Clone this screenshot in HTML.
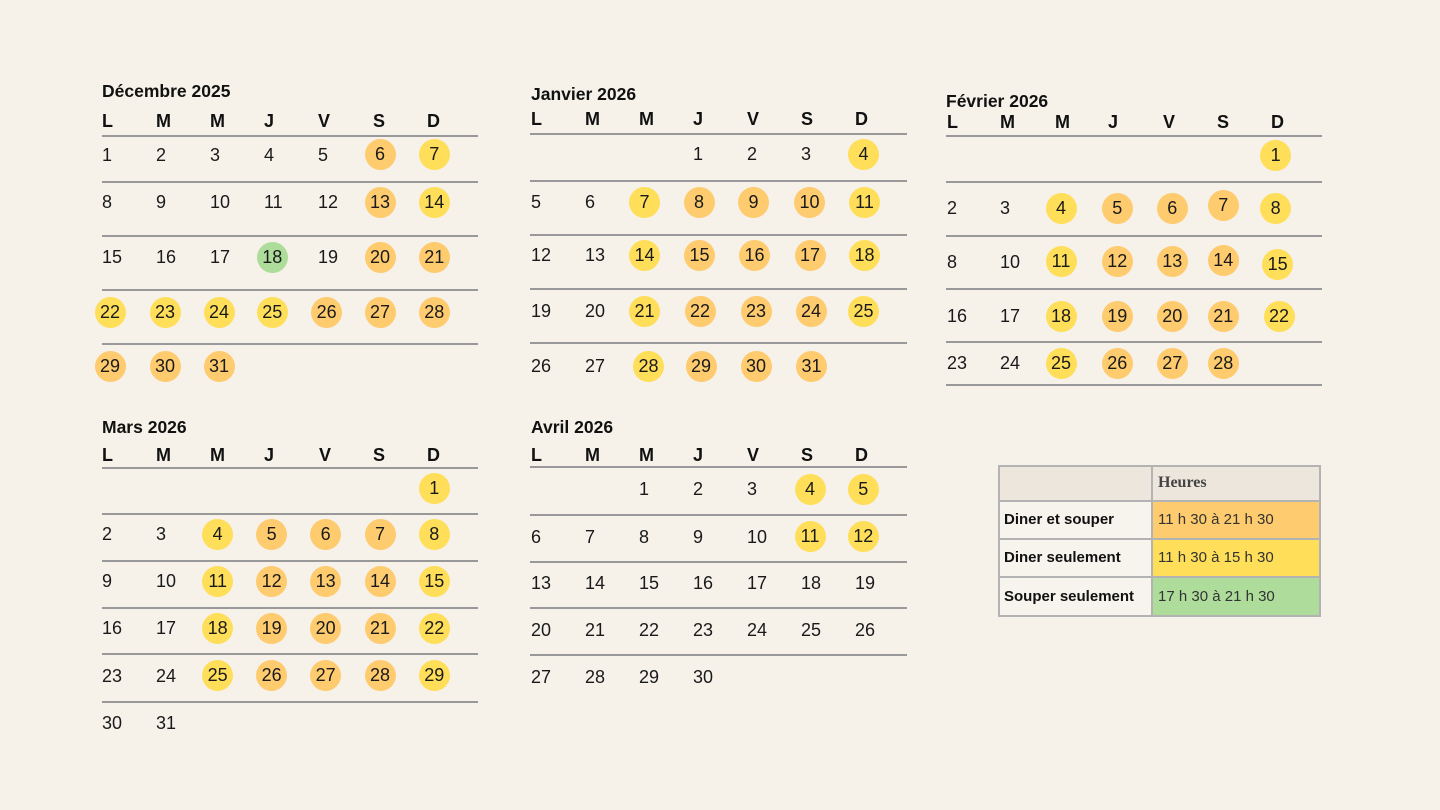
<!DOCTYPE html>
<html lang="fr">
<head>
<meta charset="utf-8">
<style>
  html,body{margin:0;padding:0;}
  body{width:1440px;height:810px;background:#f6f2ea;position:relative;overflow:hidden;
       font-family:"Liberation Sans",Arial,sans-serif;color:#1a1a1a;}
  .t{position:absolute;font-weight:bold;font-size:17.5px;line-height:20px;white-space:nowrap;color:#111;}
  .h{position:absolute;font-weight:bold;font-size:18px;line-height:20px;color:#111;}
  .l{position:absolute;height:2px;background:#999;}
  .n{position:absolute;font-size:18px;line-height:20px;white-space:nowrap;}
  .c{position:absolute;width:31px;height:31px;border-radius:50%;font-size:18px;line-height:31px;text-align:center;white-space:nowrap;}
  .o{background:#fecb6e;}
  .y{background:#ffde59;}
  .g{background:#aedd9b;}
  .cell{position:absolute;box-sizing:border-box;}
  .lab{position:absolute;font-weight:bold;font-size:15px;line-height:20px;white-space:nowrap;color:#111;}
  .val{position:absolute;font-size:15px;line-height:20px;white-space:nowrap;color:#333;}
</style>
</head>
<body>

<!-- ===== Décembre 2025 ===== -->
<div class="t" style="left:102px;top:81px;">Décembre 2025</div>
<div class="h" style="left:102px;top:111px;">L</div>
<div class="h" style="left:156px;top:111px;">M</div>
<div class="h" style="left:210px;top:111px;">M</div>
<div class="h" style="left:264px;top:111px;">J</div>
<div class="h" style="left:318px;top:111px;">V</div>
<div class="h" style="left:373px;top:111px;">S</div>
<div class="h" style="left:427px;top:111px;">D</div>
<div class="l" style="left:102px;top:135px;width:376px;"></div>
<div class="l" style="left:102px;top:181px;width:376px;"></div>
<div class="l" style="left:102px;top:235px;width:376px;"></div>
<div class="l" style="left:102px;top:289px;width:376px;"></div>
<div class="l" style="left:102px;top:343px;width:376px;"></div>

<div class="n" style="left:102px;top:144.5px;">1</div>
<div class="n" style="left:156px;top:144.5px;">2</div>
<div class="n" style="left:210px;top:144.5px;">3</div>
<div class="n" style="left:264px;top:144.5px;">4</div>
<div class="n" style="left:318px;top:144.5px;">5</div>
<div class="c o" style="left:364.5px;top:139px;">6</div>
<div class="c y" style="left:418.8px;top:139px;">7</div>

<div class="n" style="left:102px;top:192.3px;">8</div>
<div class="n" style="left:156px;top:192.3px;">9</div>
<div class="n" style="left:210px;top:192.3px;">10</div>
<div class="n" style="left:264px;top:192.3px;">11</div>
<div class="n" style="left:318px;top:192.3px;">12</div>
<div class="c o" style="left:364.5px;top:186.8px;">13</div>
<div class="c y" style="left:418.8px;top:186.8px;">14</div>

<div class="n" style="left:102px;top:247.3px;">15</div>
<div class="n" style="left:156px;top:247.3px;">16</div>
<div class="n" style="left:210px;top:247.3px;">17</div>
<div class="c g" style="left:256.8px;top:241.8px;">18</div>
<div class="n" style="left:318px;top:247.3px;">19</div>
<div class="c o" style="left:364.5px;top:241.8px;">20</div>
<div class="c o" style="left:418.8px;top:241.8px;">21</div>

<div class="c y" style="left:94.5px;top:296.8px;">22</div>
<div class="c y" style="left:149.5px;top:296.8px;">23</div>
<div class="c y" style="left:203.5px;top:296.8px;">24</div>
<div class="c y" style="left:256.8px;top:296.8px;">25</div>
<div class="c o" style="left:311.2px;top:296.8px;">26</div>
<div class="c o" style="left:364.5px;top:296.8px;">27</div>
<div class="c o" style="left:418.8px;top:296.8px;">28</div>

<div class="c o" style="left:94.5px;top:351.2px;">29</div>
<div class="c o" style="left:149.5px;top:351.2px;">30</div>
<div class="c o" style="left:203.5px;top:351.2px;">31</div>

<!-- ===== Janvier 2026 ===== -->
<div class="t" style="left:531px;top:84px;">Janvier 2026</div>
<div class="h" style="left:531px;top:109px;">L</div>
<div class="h" style="left:585px;top:109px;">M</div>
<div class="h" style="left:639px;top:109px;">M</div>
<div class="h" style="left:693px;top:109px;">J</div>
<div class="h" style="left:747px;top:109px;">V</div>
<div class="h" style="left:801px;top:109px;">S</div>
<div class="h" style="left:855px;top:109px;">D</div>
<div class="l" style="left:530px;top:133px;width:377px;"></div>
<div class="l" style="left:530px;top:180px;width:377px;"></div>
<div class="l" style="left:530px;top:234px;width:377px;"></div>
<div class="l" style="left:530px;top:288px;width:377px;"></div>
<div class="l" style="left:530px;top:342px;width:377px;"></div>

<div class="n" style="left:693px;top:144.3px;">1</div>
<div class="n" style="left:747px;top:144.3px;">2</div>
<div class="n" style="left:801px;top:144.3px;">3</div>
<div class="c y" style="left:848px;top:138.8px;">4</div>

<div class="n" style="left:531px;top:192px;">5</div>
<div class="n" style="left:585px;top:192px;">6</div>
<div class="c y" style="left:629px;top:186.5px;">7</div>
<div class="c o" style="left:683.5px;top:186.5px;">8</div>
<div class="c o" style="left:738px;top:186.5px;">9</div>
<div class="c o" style="left:794px;top:186.5px;">10</div>
<div class="c y" style="left:849px;top:186.5px;">11</div>

<div class="n" style="left:531px;top:245px;">12</div>
<div class="n" style="left:585px;top:245px;">13</div>
<div class="c y" style="left:629px;top:239.5px;">14</div>
<div class="c o" style="left:684px;top:239.5px;">15</div>
<div class="c o" style="left:739px;top:239.5px;">16</div>
<div class="c o" style="left:794.5px;top:239.5px;">17</div>
<div class="c y" style="left:849px;top:239.5px;">18</div>

<div class="n" style="left:531px;top:301px;">19</div>
<div class="n" style="left:585px;top:301px;">20</div>
<div class="c y" style="left:629px;top:295.5px;">21</div>
<div class="c o" style="left:684.5px;top:295.5px;">22</div>
<div class="c o" style="left:740.5px;top:295.5px;">23</div>
<div class="c o" style="left:795.5px;top:295.5px;">24</div>
<div class="c y" style="left:848px;top:295.5px;">25</div>

<div class="n" style="left:531px;top:356px;">26</div>
<div class="n" style="left:585px;top:356px;">27</div>
<div class="c y" style="left:633px;top:350.5px;">28</div>
<div class="c o" style="left:685.5px;top:350.5px;">29</div>
<div class="c o" style="left:740.5px;top:350.5px;">30</div>
<div class="c o" style="left:796px;top:350.5px;">31</div>

<!-- ===== Février 2026 ===== -->
<div class="t" style="left:946px;top:91.4px;">Février 2026</div>
<div class="h" style="left:947px;top:111.5px;">L</div>
<div class="h" style="left:1000px;top:111.5px;">M</div>
<div class="h" style="left:1055px;top:111.5px;">M</div>
<div class="h" style="left:1108px;top:111.5px;">J</div>
<div class="h" style="left:1163px;top:111.5px;">V</div>
<div class="h" style="left:1217px;top:111.5px;">S</div>
<div class="h" style="left:1271px;top:111.5px;">D</div>
<div class="l" style="left:946px;top:135px;width:376px;"></div>
<div class="l" style="left:946px;top:181px;width:376px;"></div>
<div class="l" style="left:946px;top:235px;width:376px;"></div>
<div class="l" style="left:946px;top:288px;width:376px;"></div>
<div class="l" style="left:946px;top:341px;width:376px;"></div>
<div class="l" style="left:946px;top:384px;width:376px;"></div>

<div class="c y" style="left:1260.2px;top:139.5px;">1</div>

<div class="n" style="left:947px;top:198.3px;">2</div>
<div class="n" style="left:1000px;top:198.3px;">3</div>
<div class="c y" style="left:1045.5px;top:192.8px;">4</div>
<div class="c o" style="left:1101.8px;top:192.8px;">5</div>
<div class="c o" style="left:1156.8px;top:192.8px;">6</div>
<div class="c o" style="left:1207.8px;top:190.2px;">7</div>
<div class="c y" style="left:1260.2px;top:192.8px;">8</div>

<div class="n" style="left:947px;top:251.7px;">8</div>
<div class="n" style="left:1000px;top:251.7px;">10</div>
<div class="c y" style="left:1045.5px;top:246.2px;">11</div>
<div class="c o" style="left:1101.8px;top:246.2px;">12</div>
<div class="c o" style="left:1156.8px;top:246.2px;">13</div>
<div class="c o" style="left:1207.8px;top:244.5px;">14</div>
<div class="c y" style="left:1262.2px;top:248.5px;">15</div>

<div class="n" style="left:947px;top:306px;">16</div>
<div class="n" style="left:1000px;top:306px;">17</div>
<div class="c y" style="left:1045.5px;top:300.5px;">18</div>
<div class="c o" style="left:1101.8px;top:300.5px;">19</div>
<div class="c o" style="left:1156.8px;top:300.5px;">20</div>
<div class="c o" style="left:1207.8px;top:300.5px;">21</div>
<div class="c y" style="left:1263.5px;top:301.2px;">22</div>

<div class="n" style="left:947px;top:353.3px;">23</div>
<div class="n" style="left:1000px;top:353.3px;">24</div>
<div class="c y" style="left:1045.5px;top:347.8px;">25</div>
<div class="c o" style="left:1101.8px;top:347.8px;">26</div>
<div class="c o" style="left:1156.8px;top:347.8px;">27</div>
<div class="c o" style="left:1207.8px;top:347.8px;">28</div>

<!-- ===== Mars 2026 ===== -->
<div class="t" style="left:102px;top:417.4px;">Mars 2026</div>
<div class="h" style="left:102px;top:445px;">L</div>
<div class="h" style="left:156px;top:445px;">M</div>
<div class="h" style="left:210px;top:445px;">M</div>
<div class="h" style="left:264px;top:445px;">J</div>
<div class="h" style="left:319px;top:445px;">V</div>
<div class="h" style="left:373px;top:445px;">S</div>
<div class="h" style="left:427px;top:445px;">D</div>
<div class="l" style="left:102px;top:467px;width:376px;"></div>
<div class="l" style="left:102px;top:513px;width:376px;"></div>
<div class="l" style="left:102px;top:560px;width:376px;"></div>
<div class="l" style="left:102px;top:607px;width:376px;"></div>
<div class="l" style="left:102px;top:653px;width:376px;"></div>
<div class="l" style="left:102px;top:701px;width:376px;"></div>

<div class="c y" style="left:418.8px;top:472.8px;">1</div>

<div class="n" style="left:102px;top:524px;">2</div>
<div class="n" style="left:156px;top:524px;">3</div>
<div class="c y" style="left:202.2px;top:518.5px;">4</div>
<div class="c o" style="left:256.2px;top:518.5px;">5</div>
<div class="c o" style="left:310.2px;top:518.5px;">6</div>
<div class="c o" style="left:364.5px;top:518.5px;">7</div>
<div class="c y" style="left:418.8px;top:518.5px;">8</div>

<div class="n" style="left:102px;top:571.3px;">9</div>
<div class="n" style="left:156px;top:571.3px;">10</div>
<div class="c y" style="left:202.2px;top:565.8px;">11</div>
<div class="c o" style="left:256.2px;top:565.8px;">12</div>
<div class="c o" style="left:310.2px;top:565.8px;">13</div>
<div class="c o" style="left:364.5px;top:565.8px;">14</div>
<div class="c y" style="left:418.8px;top:565.8px;">15</div>

<div class="n" style="left:102px;top:618.3px;">16</div>
<div class="n" style="left:156px;top:618.3px;">17</div>
<div class="c y" style="left:202.2px;top:612.8px;">18</div>
<div class="c o" style="left:256.2px;top:612.8px;">19</div>
<div class="c o" style="left:310.2px;top:612.8px;">20</div>
<div class="c o" style="left:364.5px;top:612.8px;">21</div>
<div class="c y" style="left:418.8px;top:612.8px;">22</div>

<div class="n" style="left:102px;top:665.7px;">23</div>
<div class="n" style="left:156px;top:665.7px;">24</div>
<div class="c y" style="left:202.2px;top:660.2px;">25</div>
<div class="c o" style="left:256.2px;top:660.2px;">26</div>
<div class="c o" style="left:310.2px;top:660.2px;">27</div>
<div class="c o" style="left:364.5px;top:660.2px;">28</div>
<div class="c y" style="left:418.8px;top:660.2px;">29</div>

<div class="n" style="left:102px;top:712.7px;">30</div>
<div class="n" style="left:156px;top:712.7px;">31</div>

<!-- ===== Avril 2026 ===== -->
<div class="t" style="left:531px;top:417.4px;">Avril 2026</div>
<div class="h" style="left:531px;top:444.5px;">L</div>
<div class="h" style="left:585px;top:444.5px;">M</div>
<div class="h" style="left:639px;top:444.5px;">M</div>
<div class="h" style="left:693px;top:444.5px;">J</div>
<div class="h" style="left:747px;top:444.5px;">V</div>
<div class="h" style="left:801px;top:444.5px;">S</div>
<div class="h" style="left:855px;top:444.5px;">D</div>
<div class="l" style="left:530px;top:466px;width:377px;"></div>
<div class="l" style="left:530px;top:514px;width:377px;"></div>
<div class="l" style="left:530px;top:561px;width:377px;"></div>
<div class="l" style="left:530px;top:607px;width:377px;"></div>
<div class="l" style="left:530px;top:654px;width:377px;"></div>

<div class="n" style="left:639px;top:479px;">1</div>
<div class="n" style="left:693px;top:479px;">2</div>
<div class="n" style="left:747px;top:479px;">3</div>
<div class="c y" style="left:794.5px;top:473.5px;">4</div>
<div class="c y" style="left:847.8px;top:473.5px;">5</div>

<div class="n" style="left:531px;top:526.5px;">6</div>
<div class="n" style="left:585px;top:526.5px;">7</div>
<div class="n" style="left:639px;top:526.5px;">8</div>
<div class="n" style="left:693px;top:526.5px;">9</div>
<div class="n" style="left:747px;top:526.5px;">10</div>
<div class="c y" style="left:794.5px;top:521px;">11</div>
<div class="c y" style="left:847.8px;top:521px;">12</div>

<div class="n" style="left:531px;top:573.3px;">13</div>
<div class="n" style="left:585px;top:573.3px;">14</div>
<div class="n" style="left:639px;top:573.3px;">15</div>
<div class="n" style="left:693px;top:573.3px;">16</div>
<div class="n" style="left:747px;top:573.3px;">17</div>
<div class="n" style="left:801px;top:573.3px;">18</div>
<div class="n" style="left:855px;top:573.3px;">19</div>

<div class="n" style="left:531px;top:620px;">20</div>
<div class="n" style="left:585px;top:620px;">21</div>
<div class="n" style="left:639px;top:620px;">22</div>
<div class="n" style="left:693px;top:620px;">23</div>
<div class="n" style="left:747px;top:620px;">24</div>
<div class="n" style="left:801px;top:620px;">25</div>
<div class="n" style="left:855px;top:620px;">26</div>

<div class="n" style="left:531px;top:666.7px;">27</div>
<div class="n" style="left:585px;top:666.7px;">28</div>
<div class="n" style="left:639px;top:666.7px;">29</div>
<div class="n" style="left:693px;top:666.7px;">30</div>

<!-- ===== Légende ===== -->
<div class="cell" style="left:998px;top:465px;width:155px;height:36px;background:#ede6dd;"></div>
<div class="cell" style="left:1152px;top:465px;width:169px;height:36px;background:#ede6dd;"></div>
<div class="cell" style="left:998px;top:501px;width:155px;height:116px;background:#f7f3ed;"></div>
<div class="cell" style="left:1152px;top:501px;width:169px;height:39px;background:#fecb6e;"></div>
<div class="cell" style="left:1152px;top:539px;width:169px;height:39px;background:#ffde59;"></div>
<div class="cell" style="left:1152px;top:577px;width:169px;height:40px;background:#aedd9b;"></div>
<!-- borders -->
<div class="cell" style="left:998px;top:465px;width:323px;height:152px;border:2px solid #b3b3b3;"></div>
<div class="cell" style="left:1151px;top:465px;width:2px;height:152px;background:#b3b3b3;"></div>
<div class="cell" style="left:998px;top:500px;width:323px;height:2px;background:#b3b3b3;"></div>
<div class="cell" style="left:998px;top:538px;width:323px;height:2px;background:#b3b3b3;"></div>
<div class="cell" style="left:998px;top:576px;width:323px;height:2px;background:#b3b3b3;"></div>

<div class="val" style="left:1158px;top:473px;font-family:'Liberation Serif',serif;font-weight:bold;font-size:16px;color:#444;">Heures</div>
<div class="lab" style="left:1004px;top:510px;">Diner et souper</div>
<div class="val" style="left:1158px;top:510px;">11 h 30 à 21 h 30</div>
<div class="lab" style="left:1004px;top:548px;">Diner seulement</div>
<div class="val" style="left:1158px;top:548px;">11 h 30 à 15 h 30</div>
<div class="lab" style="left:1004px;top:586.5px;">Souper seulement</div>
<div class="val" style="left:1158px;top:586.5px;">17 h 30 à 21 h 30</div>

</body>
</html>
